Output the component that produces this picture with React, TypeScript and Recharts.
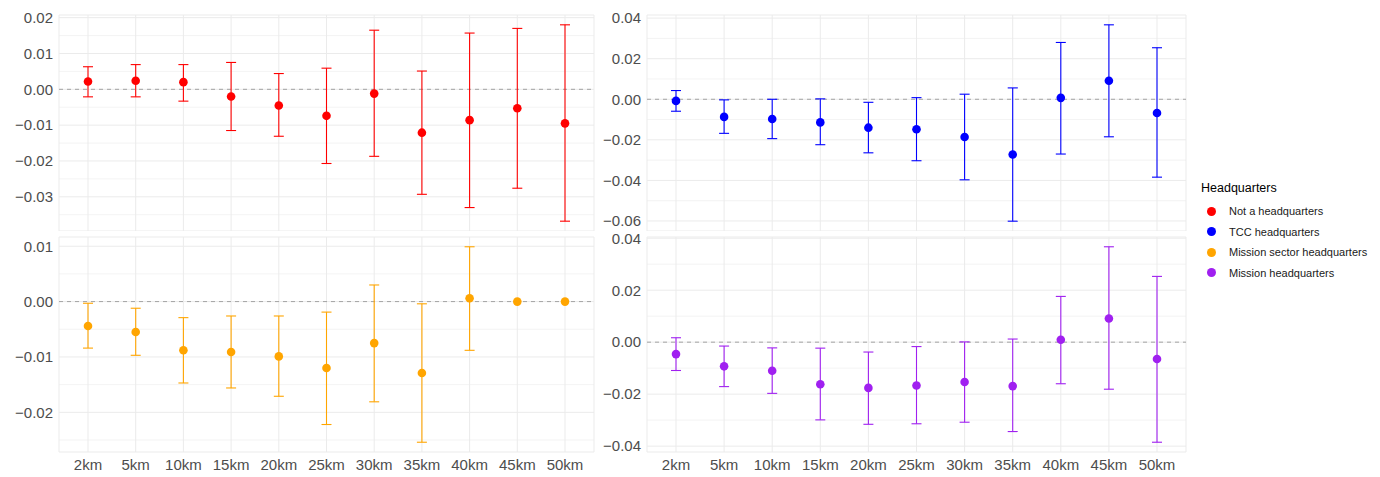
import React from 'react';
import {
  ComposedChart,
  Line,
  ErrorBar,
  XAxis,
  YAxis,
  CartesianGrid,
  ReferenceLine,
} from 'recharts';

const distances = ['2km', '5km', '10km', '15km', '20km', '25km', '30km', '35km', '40km', '45km', '50km'];

// Not a headquarters
const notHqEstimate = [0.0022, 0.0024, 0.002, -0.002, -0.0045, -0.0074, -0.0012, -0.0121, -0.0086, -0.0053, -0.0095];
const notHqLower = [-0.0021, -0.0021, -0.0033, -0.0115, -0.0131, -0.0207, -0.0187, -0.0293, -0.033, -0.0276, -0.0368];
const notHqUpper = [0.0063, 0.0069, 0.0069, 0.0075, 0.0044, 0.0059, 0.0165, 0.0051, 0.0157, 0.017, 0.018];

// TCC headquarters
const tccEstimate = [-0.0008, -0.0087, -0.0097, -0.0114, -0.014, -0.0148, -0.0186, -0.0272, 0.0007, 0.0091, -0.0068];
const tccLower = [-0.0059, -0.0168, -0.0194, -0.0224, -0.0264, -0.0303, -0.0397, -0.0601, -0.027, -0.0185, -0.0384];
const tccUpper = [0.0043, -0.0003, 0.0, 0.0002, -0.0015, 0.0008, 0.0025, 0.0056, 0.028, 0.0367, 0.0254];

// Mission sector headquarters (no interval at 45km / 50km)
const sectorEstimate = [-0.0044, -0.0055, -0.0088, -0.0091, -0.0099, -0.012, -0.0075, -0.0129, 0.0006, 0.0, 0.0];
const sectorLower = [-0.0084, -0.0097, -0.0147, -0.0156, -0.0171, -0.0222, -0.0181, -0.0254, -0.0088, null, null];
const sectorUpper = [-0.0003, -0.0012, -0.0029, -0.0026, -0.0026, -0.0019, 0.003, -0.0004, 0.0099, null, null];

// Mission headquarters
const missionEstimate = [-0.0046, -0.0093, -0.011, -0.0162, -0.0176, -0.0167, -0.0153, -0.0169, 0.0009, 0.0091, -0.0065];
const missionLower = [-0.0109, -0.0171, -0.0197, -0.0299, -0.0316, -0.0314, -0.0308, -0.0344, -0.016, -0.0181, -0.0385];
const missionUpper = [0.0017, -0.0015, -0.0022, -0.0023, -0.0038, -0.0017, 0.0001, 0.0012, 0.0176, 0.0367, 0.0253];

const groupNames = ['Not a headquarters', 'TCC headquarters', 'Mission sector headquarters', 'Mission headquarters'];
const groupColors = ['#FF0000', '#0000FF', '#FFA500', '#A020F0'];

const notHqTicks = [0.02, 0.01, 0, -0.01, -0.02, -0.03];
const notHqMinor = [0.015, 0.005, -0.005, -0.015, -0.025, -0.035];
const tccTicks = [0.04, 0.02, 0, -0.02, -0.04, -0.06];
const tccMinor = [0.03, 0.01, -0.01, -0.03, -0.05];
const sectorTicks = [0.01, 0, -0.01, -0.02];
const sectorMinor = [0.005, -0.005, -0.015, -0.025];
const missionTicks = [0.04, 0.02, 0, -0.02, -0.04];
const missionMinor = [0.03, 0.01, -0.01, -0.03];

const FONT = '"Liberation Sans", Arial, Helvetica, sans-serif';

type Row = { dist: string; est: number; err: [number, number] | null };

function buildRows(est: number[], lo: (number | null)[], hi: (number | null)[]): Row[] {
  return distances.map((d, i) => ({
    dist: d,
    est: est[i],
    err: lo[i] == null || hi[i] == null ? null : [est[i] - (lo[i] as number), (hi[i] as number) - est[i]],
  }));
}

// ggplot-style 5% expansion of the data range
function expandDomain(est: number[], lo: (number | null)[], hi: (number | null)[]): [number, number] {
  const vals = [...est, ...lo, ...hi].filter((v) => v != null) as number[];
  const min = Math.min(...vals);
  const max = Math.max(...vals);
  const pad = (max - min) * 0.05;
  return [min - pad, max + pad];
}

const fmt = (v: number) => v.toFixed(2).replace('-', '\u2212');

interface PanelProps {
  rows: Row[];
  domain: [number, number];
  ticks: number[];
  minor: number[];
  color: string;
  left: number;
  top: number;
  width: number;
  height: number;
  yAxisWidth: number;
  showX: boolean;
}

function Panel({ rows, domain, ticks, minor, color, left, top, width, height, yAxisWidth, showX }: PanelProps) {
  return (
    <div style={{ position: 'absolute', left, top }}>
      <ComposedChart
        width={width}
        height={height}
        data={rows}
        margin={{ top: 15, right: 4, bottom: 0, left: 0 }}
        style={{ overflow: 'visible' }}
      >
        <CartesianGrid stroke="#EBEBEB" strokeWidth={1} />
        {minor.map((m) => (
          <ReferenceLine key={m} y={m} stroke="#EBEBEB" strokeWidth={0.6} />
        ))}
        <XAxis
          dataKey="dist"
          type="category"
          hide={!showX}
          height={showX ? 25 : 0}
          padding={{ left: 29, right: 29 }}
          axisLine={false}
          tickLine={false}
          tickSize={0}
          tickMargin={7}
          interval={0}
          tick={{ fill: '#4D4D4D', fontSize: 15, fontFamily: FONT }}
        />
        <YAxis
          type="number"
          domain={domain}
          ticks={ticks}
          width={yAxisWidth}
          axisLine={false}
          tickLine={false}
          tickSize={0}
          tickMargin={6}
          tickFormatter={fmt}
          allowDataOverflow
          tick={{ fill: '#4D4D4D', fontSize: 15, fontFamily: FONT }}
        />
        <ReferenceLine y={0} stroke="#A3A3A3" strokeDasharray="4 4" strokeWidth={1} />
        <Line
          dataKey="est"
          stroke="none"
          isAnimationActive={false}
          dot={{ r: 4.3, fill: color, stroke: color, strokeWidth: 0 }}
          activeDot={false}
        >
          <ErrorBar dataKey="err" stroke={color} strokeWidth={1.1} width={5} isAnimationActive={false} />
        </Line>
      </ComposedChart>
    </div>
  );
}

export default function App() {
  const panels = [
    { est: notHqEstimate, lo: notHqLower, hi: notHqUpper, ticks: notHqTicks, minor: notHqMinor },
    { est: tccEstimate, lo: tccLower, hi: tccUpper, ticks: tccTicks, minor: tccMinor },
    { est: sectorEstimate, lo: sectorLower, hi: sectorUpper, ticks: sectorTicks, minor: sectorMinor },
    { est: missionEstimate, lo: missionLower, hi: missionUpper, ticks: missionTicks, minor: missionMinor },
  ];
  const layout = [
    { left: 0, top: 0, width: 598, height: 231, yAxisWidth: 59, showX: false },
    { left: 590, top: 0, width: 600, height: 231, yAxisWidth: 57, showX: false },
    { left: 0, top: 222, width: 598, height: 255, yAxisWidth: 59, showX: true },
    { left: 590, top: 222, width: 600, height: 255, yAxisWidth: 57, showX: true },
  ];

  return (
    <div
      style={{
        position: 'fixed',
        left: 0,
        top: 0,
        width: 1380,
        height: 477,
        background: '#FFFFFF',
        fontFamily: FONT,
      }}
    >
      {panels.map((p, i) => (
        <Panel
          key={groupNames[i]}
          rows={buildRows(p.est, p.lo, p.hi)}
          domain={expandDomain(p.est, p.lo, p.hi)}
          ticks={p.ticks}
          minor={p.minor}
          color={groupColors[i]}
          {...layout[i]}
        />
      ))}

      {/* Legend */}
      <div style={{ position: 'absolute', left: 1201, top: 181 }}>
        <div style={{ fontSize: 12.5, color: '#000000', marginBottom: 6 }}>Headquarters</div>
        {groupNames.map((name, i) => (
          <div key={name} style={{ display: 'flex', alignItems: 'center', height: 20.5 }}>
            <span
              style={{
                display: 'inline-block',
                width: 9,
                height: 9,
                borderRadius: '50%',
                background: groupColors[i],
                marginLeft: 6,
                marginRight: 13,
              }}
            />
            <span style={{ fontSize: 11, color: '#1A1A1A' }}>{name}</span>
          </div>
        ))}
      </div>
    </div>
  );
}
